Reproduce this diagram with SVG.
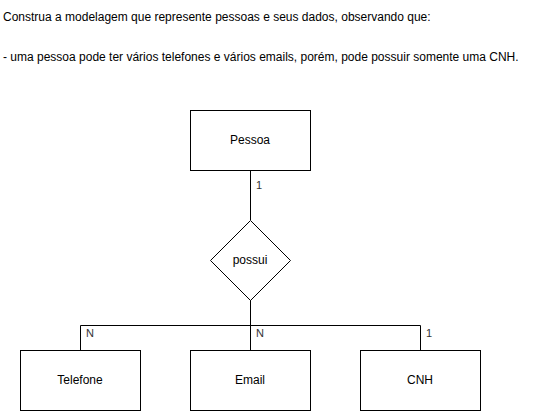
<svg xmlns="http://www.w3.org/2000/svg" width="560" height="411" viewBox="0 0 560 411">
<style>
text{font-family:"Liberation Sans",Arial,sans-serif;fill:#000}
.t{font-size:12px}
.n{font-size:12px;text-anchor:middle;dominant-baseline:central}
.l{font-size:11px;fill:#333}
.s{fill:#fff;stroke:#000;stroke-width:1}
.c{fill:none;stroke:#000;stroke-width:1}
</style>
<rect width="560" height="411" fill="#fff"/>
<text class="t" x="3" y="21">Construa a modelagem que represente pessoas e seus dados, observando que:</text>
<text class="t" x="3" y="61">- uma pessoa pode ter vários telefones e vários emails, porém, pode possuir somente uma CNH.</text>
<g id="connectors">
<path class="c" d="M250.5 170V220"/>
<path class="c" d="M250.5 300V350"/>
<path class="c" d="M80.5 350V325.5H420.5V350"/>
<text class="l" x="256" y="189">1</text>
<text class="l" x="86" y="337">N</text>
<text class="l" x="256" y="337">N</text>
<text class="l" x="426" y="337">1</text>
</g>
<g id="pessoa"><rect class="s" x="190.5" y="110.5" width="120" height="60"/><text class="n" x="250" y="140">Pessoa</text></g>
<g id="possui"><path class="s" d="M250.5 220.5L290.5 260.5L250.5 300.5L210.5 260.5Z"/><text class="n" x="250" y="260">possui</text></g>
<g id="telefone"><rect class="s" x="20.5" y="350.5" width="120" height="60"/><text class="n" x="80" y="380">Telefone</text></g>
<g id="email"><rect class="s" x="190.5" y="350.5" width="120" height="60"/><text class="n" x="250" y="380">Email</text></g>
<g id="cnh"><rect class="s" x="360.5" y="350.5" width="120" height="60"/><text class="n" x="420" y="380">CNH</text></g>
</svg>
